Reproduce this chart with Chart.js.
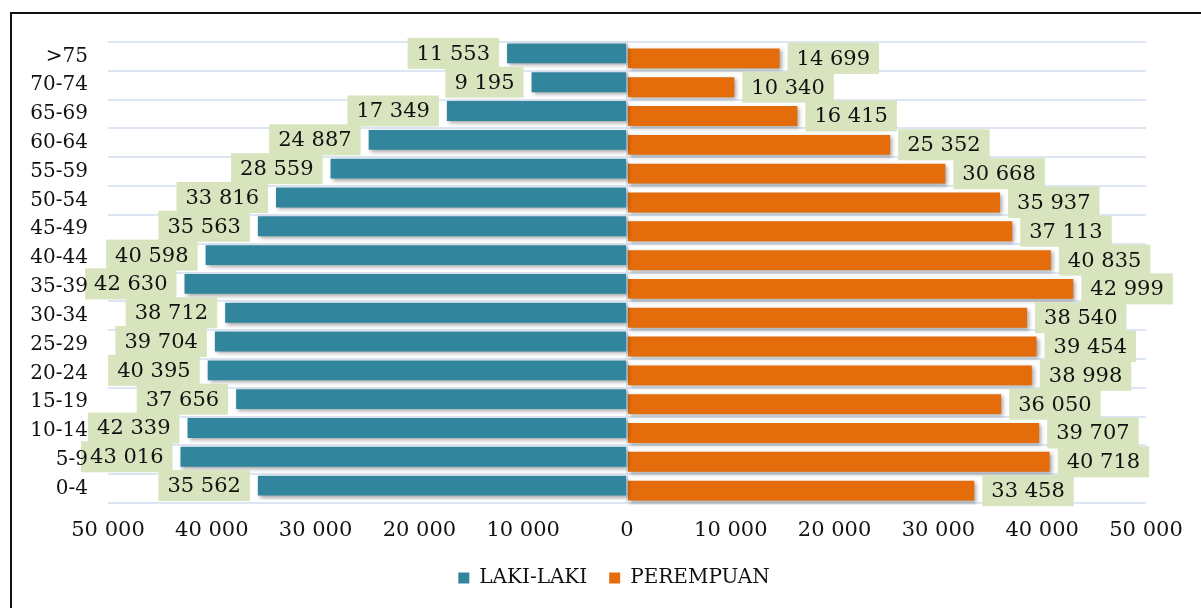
<!DOCTYPE html>
<html>
<head>
<meta charset="utf-8">
<script src="https://cdn.jsdelivr.net/npm/chart.js@4"></script>
<style>
  html, body { margin: 0; padding: 0; background: #fff; }
  #wrap { position: relative; width: 1201px; height: 608px; overflow: hidden; }
  #frame { position: absolute; left: 10px; top: 12px; width: 1300px; height: 700px;
           border-left: 2px solid #111; border-top: 2px solid #111; }
  canvas { position: absolute; left: 0; top: 0; }
</style>
</head>
<body>
<div id="wrap">
  <div id="frame"></div>
  <canvas id="pyramid" width="1201" height="608"></canvas>
</div>
<script>
// age groups, top to bottom
const ageGroups = ['>75', '70-74', '65-69', '60-64', '55-59', '50-54', '45-49', '40-44',
                   '35-39', '30-34', '25-29', '20-24', '15-19', '10-14', '5-9', '0-4'];
const lakiLaki = [11553, 9195, 17349, 24887, 28559, 33816, 35563, 40598,
                  42630, 38712, 39704, 40395, 37656, 42339, 43016, 35562];
const perempuan = [14699, 10340, 16415, 25352, 30668, 35937, 37113, 40835,
                   42999, 38540, 39454, 38998, 36050, 39707, 40718, 33458];
const axisMin = -50000, axisMax = 50000, axisStep = 10000;

const FONT = 'DejaVu Serif';
const gridColor = '#dce6f2';
const shift = [-3, 2]; // vertical nudge of each series, like the original

function spaced(n) {
    return String(Math.abs(Math.round(n))).replace(/\B(?=(\d{3})+(?!\d))/g, ' ');
}

// bars slightly offset + soft shadow
const barStyle = {
    id: 'barStyle',
    beforeDatasetDraw(chart, args) {
        const ctx = chart.ctx;
        ctx.save();
        ctx.translate(0, shift[args.index]);
        ctx.shadowColor = 'rgba(0,0,0,0.35)';
        ctx.shadowBlur = 4;
        ctx.shadowOffsetX = 2;
        ctx.shadowOffsetY = 2;
    },
    afterDatasetDraw(chart) {
        chart.ctx.restore();
    }
};

// value labels on light green boxes
const valueBoxes = {
    id: 'valueBoxes',
    afterDatasetsDraw(chart) {
        const ctx = chart.ctx;
        ctx.save();
        ctx.font = '21px "' + FONT + '"';
        ctx.textBaseline = 'middle';
        chart.data.datasets.forEach((ds, di) => {
            const meta = chart.getDatasetMeta(di);
            meta.data.forEach((bar, i) => {
                const txt = spaced(ds.data[i]);
                const w = ctx.measureText(txt).width + 18;
                const h = 31;
                const y = bar.y + shift[di];
                const left = ds.data[i] < 0;
                const x0 = left ? bar.x - 8 - w : bar.x + 8;
                ctx.fillStyle = '#d7e4bd';
                ctx.fillRect(x0, y - h / 2, w, h);
                ctx.fillStyle = '#111';
                ctx.textAlign = 'center';
                ctx.fillText(txt, x0 + w / 2, y + 1);
            });
        });
        ctx.restore();
    }
};

// legend in the original is centred a bit right of the canvas middle
const legendShift = {
    id: 'legendShift',
    afterLayout(chart) {
        chart.legend.left += 41;
        chart.legend.right += 41;
    }
};

window.onload = function () {
    const ctx = document.getElementById('pyramid').getContext('2d');
    new Chart(ctx, {
        type: 'bar',
        data: {
            labels: ageGroups,
            datasets: [{
                label: 'LAKI-LAKI',
                data: lakiLaki.map(v => -v),
                backgroundColor: '#31859c'
            }, {
                label: 'PEREMPUAN',
                data: perempuan,
                backgroundColor: '#e46c0a'
            }]
        },
        options: {
            indexAxis: 'y',
            responsive: false,
            animation: false,
            barPercentage: 0.69,
            categoryPercentage: 1,
            layout: { padding: { top: 42, right: 55, left: 0, bottom: 10 } },
            scales: {
                x: {
                    stacked: true,
                    min: axisMin,
                    max: axisMax,
                    ticks: {
                        stepSize: axisStep,
                        padding: 15,
                        color: '#111',
                        font: { family: FONT, size: 21 },
                        callback: v => spaced(v)
                    },
                    grid: {
                        drawTicks: false,
                        lineWidth: 2,
                        color: c => (c.tick && c.tick.value === 0) ? gridColor : 'rgba(0,0,0,0)'
                    },
                    border: { display: false },
                    afterFit(scale) { scale.height = 43; }
                },
                y: {
                    stacked: true,
                    ticks: {
                        z: 1, // age labels above the value boxes
                        padding: 20,
                        color: '#111',
                        font: { family: FONT, size: 20 }
                    },
                    grid: { drawTicks: false, lineWidth: 2, color: gridColor },
                    border: { display: false },
                    afterFit(scale) { scale.width = 108; }
                }
            },
            plugins: {
                tooltip: { enabled: false },
                legend: {
                    position: 'bottom',
                    labels: {
                        boxWidth: 11,
                        boxHeight: 11,
                        padding: 22,
                        color: '#111',
                        font: { family: FONT, size: 20 }
                    }
                }
            }
        },
        plugins: [barStyle, valueBoxes, legendShift]
    });
};
</script>
</body>
</html>
